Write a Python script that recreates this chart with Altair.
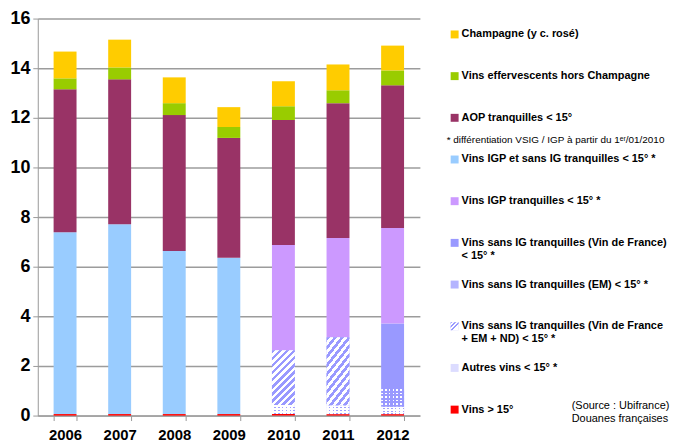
import altair as alt
import pandas as pd

years = ["2006", "2007", "2008", "2009", "2010", "2011", "2012"]

# series, stacked bottom -> top
series = [
    "Vins > 15°",
    "Autres vins < 15° *",
    "Vins sans IG tranquilles (EM) < 15° *",
    "Vins sans IG tranquilles (Vin de France + EM + ND) < 15° *",
    "Vins sans IG tranquilles (Vin de France) < 15° *",
    "Vins IGP et sans IG tranquilles < 15° *",
    "Vins IGP tranquilles < 15° *",
    "AOP tranquilles < 15°",
    "Vins effervescents hors Champagne",
    "Champagne (y c. rosé)",
]

vins_sup15 = [0.06, 0.06, 0.06, 0.06, 0.06, 0.06, 0.06]
autres_vins = [0, 0, 0, 0, 0.37, 0.34, 0.30]
sans_ig_em = [0, 0, 0, 0, 0, 0, 0.71]
sans_ig_vdf_em_nd = [0, 0, 0, 0, 2.20, 2.76, 0]
sans_ig_vdf = [0, 0, 0, 0, 0, 0, 2.64]
igp_et_sans_ig = [7.33, 7.65, 6.57, 6.30, 0, 0, 0]
igp = [0, 0, 0, 0, 4.24, 4.00, 3.85]
aop = [5.76, 5.84, 5.48, 4.83, 5.04, 5.43, 5.75]
effervescents = [0.44, 0.48, 0.48, 0.44, 0.56, 0.52, 0.60]
champagne = [1.08, 1.12, 1.04, 0.80, 1.00, 1.04, 1.00]

values = [vins_sup15, autres_vins, sans_ig_em, sans_ig_vdf_em_nd, sans_ig_vdf,
          igp_et_sans_ig, igp, aop, effervescents, champagne]

colors = ["#FF0000", "#DCDCFF", "#B4B4FF", "#C2C2FF", "#9999FF",
          "#99CCFF", "#CC99FF", "#993366", "#99CC00", "#FFCC00"]

# legend (top -> bottom)
legend_keys = [series[9], series[8], series[7], series[5], series[6],
               series[4], series[2], series[3], series[1], series[0]]
legend_line1 = [
    "Champagne (y c. rosé)",
    "Vins effervescents hors Champagne",
    "AOP tranquilles < 15°",
    "Vins IGP et sans IG tranquilles < 15° *",
    "Vins IGP tranquilles < 15° *",
    "Vins sans IG tranquilles (Vin de France)",
    "Vins sans IG tranquilles (EM) < 15° *",
    "Vins sans IG tranquilles (Vin de France",
    "Autres vins < 15° *",
    "Vins > 15°",
]
legend_line2 = ["", "", "", "", "", "< 15° *", "", "+ EM + ND) < 15° *", "", ""]
note_text = "* différentiation VSIG / IGP à partir du 1ᵉʳ/01/2010"
source_lines = ["(Source : Ubifrance)", "Douanes françaises"]

FONT = "Liberation Sans"

# ---- stacked table ----
rows = []
for yi, yr in enumerate(years):
    acc = 0.0
    for si, s in enumerate(series):
        v = values[si][yi]
        if v > 0:
            rows.append({"year": yr, "series": s, "y0": acc, "y1": acc + v})
            acc += v
bars = pd.DataFrame(rows)


def stripes(n, c1, c2, frac=0.5, x2=0.0, y2=1.0):
    stops = []
    for i in range(n):
        a = i / n
        b = (i + frac) / n
        c = (i + 1) / n
        stops += [{"offset": a, "color": c1}, {"offset": b, "color": c1},
                  {"offset": b, "color": c2}, {"offset": c, "color": c2}]
    return {"gradient": "linear", "x1": 0, "y1": 0, "x2": x2, "y2": y2, "stops": stops}


hatch = stripes(11, "#9999FF", "#FFFFFF", 0.5, 0.507, 1.207)
hatch_legend = stripes(3, "#9999FF", "#FFFFFF", 0.5, 0.71, 0.71)

x_enc = alt.X(
    "year:O",
    scale=alt.Scale(paddingInner=0.58, paddingOuter=0.29),
    axis=alt.Axis(title=None, labelAngle=0, tickBand="extent", tickSize=5,
                  labelPadding=7, labelFont=FONT, labelFontSize=15,
                  labelFontWeight="bold", labelColor="#000000",
                  domainColor="#999999", tickColor="#999999", grid=False),
)
y_enc = alt.Y(
    "y0:Q",
    scale=alt.Scale(domain=[0, 16], nice=False),
    axis=alt.Axis(title=None, values=[0, 2, 4, 6, 8, 10, 12, 14, 16], tickSize=5,
                  labelPadding=3, labelFont=FONT, labelFontSize=18,
                  labelFontWeight="bold", labelColor="#000000",
                  domainColor="#999999", tickColor="#999999",
                  gridColor="#9c9c9c", gridWidth=1.5, minExtent=30, maxExtent=30),
)

base = alt.Chart(bars)
main = base.mark_bar().encode(
    x=x_enc, y=y_enc, y2="y1:Q",
    color=alt.Color("series:N", scale=alt.Scale(domain=series, range=colors), legend=None),
)
hatch_layer = base.transform_filter(
    alt.datum.series == series[3]
).mark_bar(color=hatch).encode(x=x_enc, y=y_enc, y2="y1:Q")

# dotted patterns: vertical stripes + horizontal stripes overlay
autres_v = base.transform_filter(alt.datum.series == series[1]).mark_bar(
    color=stripes(6, "#FFFFFF", "#A0A0FF", 0.6, 1.0, 0.0)).encode(x=x_enc, y=y_enc, y2="y1:Q")
autres_h = base.transform_filter(alt.datum.series == series[1]).mark_bar(
    color=stripes(3, "rgba(255,255,255,1)", "rgba(255,255,255,0)", 0.6, 0.0, 1.0)).encode(x=x_enc, y=y_enc, y2="y1:Q")
em_v = base.transform_filter(alt.datum.series == series[2]).mark_bar(
    color=stripes(6, "#FFFFFF", "#9999FF", 0.45, 1.0, 0.0)).encode(x=x_enc, y=y_enc, y2="y1:Q")
em_h = base.transform_filter(alt.datum.series == series[2]).mark_bar(
    color=stripes(5, "rgba(153,153,255,0)", "rgba(153,153,255,1)", 0.45, 0.0, 1.0)).encode(x=x_enc, y=y_enc, y2="y1:Q")

left = alt.layer(main, hatch_layer, autres_v, autres_h, em_v, em_h).properties(width=385, height=400)

# ---- legend panel ----
leg_df = pd.DataFrame({"key": legend_keys, "line1": legend_line1, "line2": legend_line2})
y_leg = alt.Y("key:N", sort=legend_keys,
              scale=alt.Scale(type="point", range=[16, 394], padding=0), axis=None)
leg = alt.Chart(leg_df)
squares = leg.mark_square(size=64, opacity=1).encode(
    x=alt.value(4), y=y_leg,
    color=alt.Color("key:N", scale=alt.Scale(domain=series, range=colors), legend=None),
)
hatch_sq = leg.transform_filter(alt.datum.key == series[3]).mark_square(
    size=64, opacity=1, color=hatch_legend).encode(x=alt.value(4), y=y_leg)
t1 = leg.mark_text(align="left", baseline="middle", font=FONT, fontSize=11,
                   fontWeight="bold", color="#000000").encode(
    x=alt.value(11), y=y_leg, text="line1:N")
t2 = leg.mark_text(align="left", baseline="middle", font=FONT, fontSize=11,
                   fontWeight="bold", color="#000000", dy=13).encode(
    x=alt.value(11), y=y_leg, text="line2:N")

note_df = pd.DataFrame({"key": [legend_keys[2]], "txt": [note_text]})
note = alt.Chart(note_df).mark_text(align="left", baseline="middle", font=FONT,
                                    fontSize=10, color="#000000", dy=22).encode(
    x=alt.value(-4), y=y_leg, text="txt:N")
src_df = pd.DataFrame({"key": [legend_keys[-1]], "l1": [source_lines[0]], "l2": [source_lines[1]]})
src1 = alt.Chart(src_df).mark_text(align="left", baseline="middle", font=FONT,
                                   fontSize=11, color="#000000", dy=-4).encode(
    x=alt.value(122), y=y_leg, text="l1:N")
src2 = alt.Chart(src_df).mark_text(align="left", baseline="middle", font=FONT,
                                   fontSize=11, color="#000000", dy=9).encode(
    x=alt.value(122), y=y_leg, text="l2:N")

right = alt.layer(squares, hatch_sq, t1, t2, note, src1, src2).properties(width=200, height=400)

chart = alt.hconcat(left, right, spacing=27).properties(
    padding={"left": 0, "top": 0, "right": 0, "bottom": 0}
).configure_view(stroke=None)

chart.save("out.html", embed_options={"renderer": "svg", "actions": False})
